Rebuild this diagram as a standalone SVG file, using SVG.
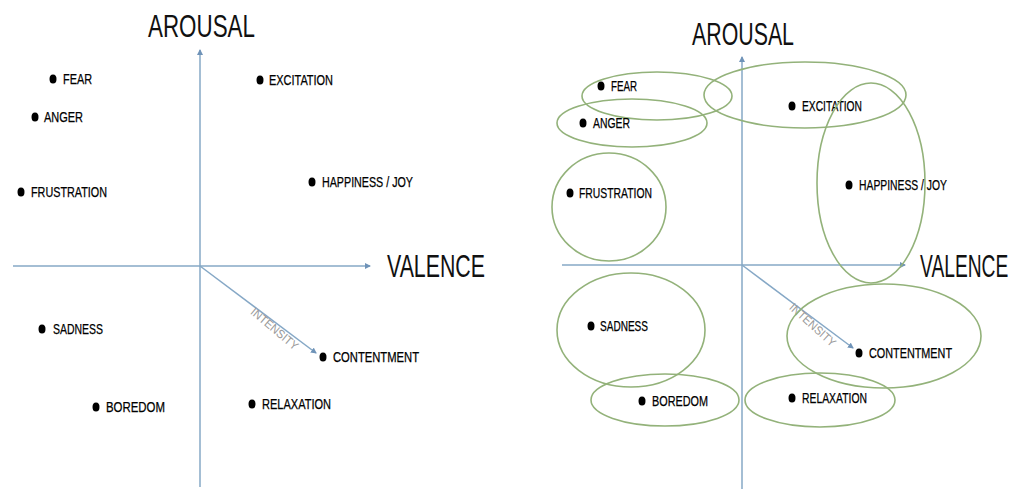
<svg xmlns="http://www.w3.org/2000/svg" width="1019" height="489" viewBox="0 0 1019 489">
<style>
.axis{stroke:#86a8c6;stroke-width:1.5;fill:none}
.big{font-family:"Liberation Sans Narrow","Liberation Sans",Arial,sans-serif;font-size:31px;fill:#111}
.bigs{font-family:"Liberation Sans",Arial,sans-serif;font-size:31px;fill:#111}
.lbl{font-family:"Liberation Sans Narrow","Liberation Sans",Arial,sans-serif;font-size:14px;fill:#000;stroke:#000;stroke-width:0.25}
.int{font-family:"Liberation Sans Narrow","Liberation Sans",Arial,sans-serif;font-size:12px;fill:#9a9a9a}
.dot{fill:#000}
.zone{fill:none;stroke:#93b27a;stroke-width:1.6}
</style>
<defs>
<marker id="ah" viewBox="0 0 6 6" refX="5" refY="3" markerWidth="4" markerHeight="4" orient="auto">
<path d="M0,0 L6,3 L0,6 z" fill="#6f93b8"/>
</marker>
</defs>
<rect width="1019" height="489" fill="#fff"/>
<g id="connectors">
<line class="axis" x1="200" y1="487" x2="200" y2="50" marker-end="url(#ah)"/>
<line class="axis" x1="13" y1="266" x2="370" y2="266" marker-end="url(#ah)"/>
<line class="axis" x1="200" y1="266" x2="316" y2="353" marker-end="url(#ah)"/>
<line class="axis" x1="742" y1="489" x2="742" y2="57" marker-end="url(#ah)"/>
<line class="axis" x1="562" y1="265" x2="905" y2="265" marker-end="url(#ah)"/>
<line class="axis" x1="742" y1="265" x2="853" y2="348" marker-end="url(#ah)"/>
</g>
<g id="left-labels">
<text class="big" x="148" y="37" textLength="107" lengthAdjust="spacingAndGlyphs">AROUSAL</text>
<text class="big" x="387" y="277" textLength="98" lengthAdjust="spacingAndGlyphs">VALENCE</text>
<text class="int" transform="translate(272,332) rotate(40)" text-anchor="middle" textLength="58" lengthAdjust="spacingAndGlyphs">INTENSITY</text>
</g>
<g id="l-fear"><ellipse class="dot" cx="53" cy="79" rx="3.5" ry="4.5"/><text class="lbl" x="63" y="84" textLength="29" lengthAdjust="spacingAndGlyphs">FEAR</text></g>
<g id="l-anger"><ellipse class="dot" cx="35" cy="117" rx="3.5" ry="4.5"/><text class="lbl" x="44" y="122" textLength="39" lengthAdjust="spacingAndGlyphs">ANGER</text></g>
<g id="l-frustration"><ellipse class="dot" cx="21" cy="192" rx="3.5" ry="4.5"/><text class="lbl" x="31" y="197" textLength="76" lengthAdjust="spacingAndGlyphs">FRUSTRATION</text></g>
<g id="l-excitation"><ellipse class="dot" cx="260" cy="80" rx="3.5" ry="4.5"/><text class="lbl" x="269" y="85" textLength="64" lengthAdjust="spacingAndGlyphs">EXCITATION</text></g>
<g id="l-happiness"><ellipse class="dot" cx="312" cy="182" rx="3.5" ry="4.5"/><text class="lbl" x="322" y="187" textLength="91" lengthAdjust="spacingAndGlyphs">HAPPINESS / JOY</text></g>
<g id="l-sadness"><ellipse class="dot" cx="42" cy="329" rx="3.5" ry="4.5"/><text class="lbl" x="53" y="334" textLength="50" lengthAdjust="spacingAndGlyphs">SADNESS</text></g>
<g id="l-boredom"><ellipse class="dot" cx="96" cy="407" rx="3.5" ry="4.5"/><text class="lbl" x="106" y="412" textLength="59" lengthAdjust="spacingAndGlyphs">BOREDOM</text></g>
<g id="l-contentment"><ellipse class="dot" cx="323" cy="357" rx="3.5" ry="4.5"/><text class="lbl" x="333" y="362" textLength="86" lengthAdjust="spacingAndGlyphs">CONTENTMENT</text></g>
<g id="l-relaxation"><ellipse class="dot" cx="252" cy="404" rx="3.5" ry="4.5"/><text class="lbl" x="262" y="409" textLength="69" lengthAdjust="spacingAndGlyphs">RELAXATION</text></g>
<g id="right-labels">
<text class="big" x="692" y="45" textLength="102" lengthAdjust="spacingAndGlyphs">AROUSAL</text>
<text class="bigs" transform="translate(920,277) scale(0.62,1)" x="0" y="0">VALENCE</text>
<text class="int" transform="translate(810,328) rotate(42)" text-anchor="middle" textLength="58" lengthAdjust="spacingAndGlyphs">INTENSITY</text>
</g>
<g id="r-fear"><ellipse class="zone" cx="657" cy="96" rx="75" ry="24"/><ellipse class="dot" cx="601" cy="86" rx="3.5" ry="4.5"/><text class="lbl" x="611" y="91" textLength="26" lengthAdjust="spacingAndGlyphs">FEAR</text></g>
<g id="r-anger"><ellipse class="zone" cx="632" cy="123" rx="75" ry="24"/><ellipse class="dot" cx="583" cy="123" rx="3.5" ry="4.5"/><text class="lbl" x="593" y="128" textLength="37" lengthAdjust="spacingAndGlyphs">ANGER</text></g>
<g id="r-excitation"><ellipse class="zone" cx="805" cy="95" rx="101" ry="33"/><ellipse class="dot" cx="792" cy="106" rx="3.5" ry="4.5"/><text class="lbl" x="802" y="111" textLength="60" lengthAdjust="spacingAndGlyphs">EXCITATION</text></g>
<g id="r-happiness"><ellipse class="zone" cx="871" cy="183" rx="54" ry="100"/><ellipse class="dot" cx="849" cy="185" rx="3.5" ry="4.5"/><text class="lbl" x="859" y="190" textLength="88" lengthAdjust="spacingAndGlyphs">HAPPINESS / JOY</text></g>
<g id="r-frustration"><ellipse class="zone" cx="609" cy="207" rx="57" ry="54"/><ellipse class="dot" cx="570" cy="193" rx="3.5" ry="4.5"/><text class="lbl" x="579" y="198" textLength="73" lengthAdjust="spacingAndGlyphs">FRUSTRATION</text></g>
<g id="r-sadness"><ellipse class="zone" cx="631" cy="330" rx="74" ry="57"/><ellipse class="dot" cx="591" cy="326" rx="3.5" ry="4.5"/><text class="lbl" x="600" y="331" textLength="48" lengthAdjust="spacingAndGlyphs">SADNESS</text></g>
<g id="r-boredom"><ellipse class="zone" cx="665" cy="400" rx="74" ry="26"/><ellipse class="dot" cx="642" cy="401" rx="3.5" ry="4.5"/><text class="lbl" x="652" y="406" textLength="56" lengthAdjust="spacingAndGlyphs">BOREDOM</text></g>
<g id="r-contentment"><ellipse class="zone" cx="884" cy="336" rx="97" ry="52"/><ellipse class="dot" cx="859" cy="353" rx="3.5" ry="4.5"/><text class="lbl" x="869" y="358" textLength="83" lengthAdjust="spacingAndGlyphs">CONTENTMENT</text></g>
<g id="r-relaxation"><ellipse class="zone" cx="820" cy="400" rx="75" ry="27"/><ellipse class="dot" cx="792" cy="398" rx="3.5" ry="4.5"/><text class="lbl" x="802" y="403" textLength="65" lengthAdjust="spacingAndGlyphs">RELAXATION</text></g>
</svg>
